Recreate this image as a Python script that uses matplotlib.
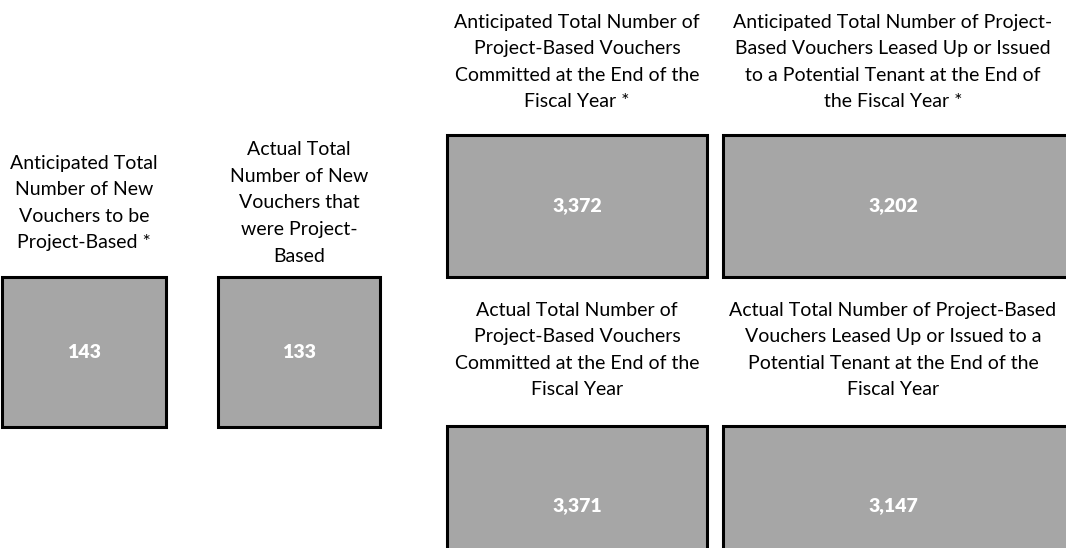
import matplotlib.pyplot as plt
from matplotlib.patches import Rectangle

# tile labels and values
labels = [
    "Anticipated Total\nNumber of New\nVouchers to be\nProject-Based *",
    "Actual Total\nNumber of New\nVouchers that\nwere Project-\nBased",
    "Anticipated Total Number of\nProject-Based Vouchers\nCommitted at the End of the\nFiscal Year *",
    "Anticipated Total Number of Project-\nBased Vouchers Leased Up or Issued\nto a Potential Tenant at the End of\nthe Fiscal Year *",
    "Actual Total Number of\nProject-Based Vouchers\nCommitted at the End of the\nFiscal Year",
    "Actual Total Number of Project-Based\nVouchers Leased Up or Issued to a\nPotential Tenant at the End of the\nFiscal Year",
]
values = [143, 133, 3372, 3202, 3371, 3147]

# layout in pixels (top-left origin)
box_x = [2, 218, 447, 723, 447, 723]
box_y = [277, 277, 135, 135, 426, 426]
box_w = [164, 162, 260, 350, 260, 350]
box_h = [150, 150, 142, 142, 160, 160]
label_y = [203, 203, 62, 62, 350, 350]
label_x = [84, 299, 577, 893, 577, 893]

W, H = 1066, 548
fig = plt.figure(figsize=(W / 100, H / 100), dpi=100)
ax = fig.add_axes([0, 0, 1, 1])
ax.set_xlim(0, W)
ax.set_ylim(H, 0)
ax.axis('off')

font = ['Lato', 'DejaVu Sans']
for i in range(len(values)):
    ax.add_patch(Rectangle((box_x[i], box_y[i]), box_w[i], box_h[i],
                           facecolor='#a6a6a6', edgecolor='black', linewidth=2.2))
    ax.text(box_x[i] + box_w[i] / 2 if i not in (3, 5) else label_x[i],
            box_y[i] + box_h[i] / 2, f"{values[i]:,}",
            ha='center', va='center', color='white', fontsize=14,
            fontweight='heavy', family=font)
    ax.text(label_x[i], label_y[i], labels[i], ha='center', va='center',
            multialignment='center', fontsize=14, family=font,
            linespacing=1.69, color='black')

fig.savefig('out.png', dpi=100)
